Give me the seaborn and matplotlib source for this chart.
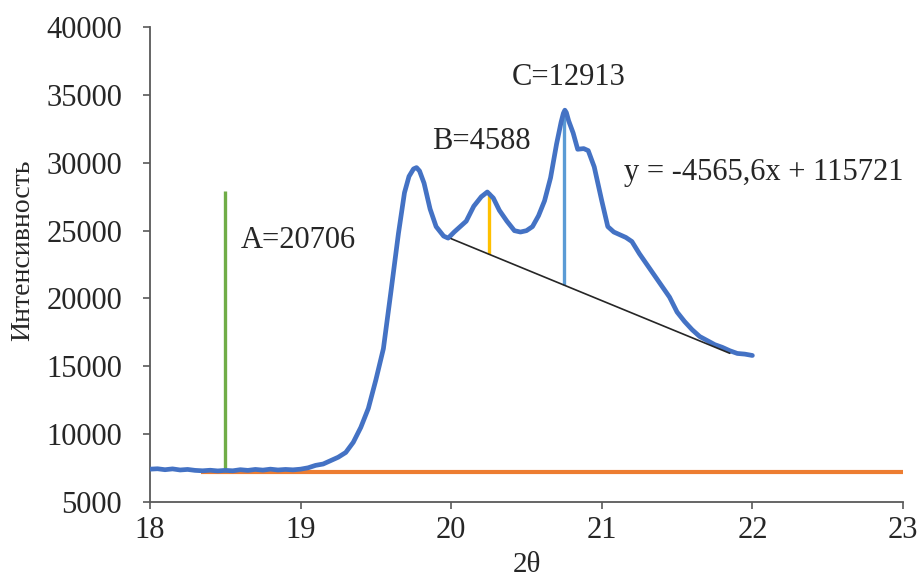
import numpy as np
import pandas as pd
import matplotlib
matplotlib.use("Agg")
import matplotlib.pyplot as plt
import seaborn as sns

# Diffraction scan: 2θ (degrees) and intensity (counts)
two_theta = [
    18.00, 18.05, 18.10, 18.15, 18.20, 18.25, 18.30, 18.35, 18.40, 18.45,
    18.50, 18.55, 18.60, 18.65, 18.70, 18.75, 18.80, 18.85, 18.90, 18.95,
    19.00, 19.05, 19.10, 19.15, 19.20, 19.25, 19.30, 19.35, 19.40, 19.45,
    19.50, 19.55, 19.60, 19.65, 19.69, 19.72, 19.75, 19.77, 19.79, 19.82,
    19.86, 19.90, 19.95, 19.98, 20.02, 20.06, 20.10, 20.15, 20.20, 20.24,
    20.28, 20.32, 20.37, 20.42, 20.46, 20.50, 20.54, 20.58, 20.62, 20.66,
    20.70, 20.73, 20.745, 20.755, 20.765, 20.78, 20.81, 20.84, 20.88, 20.91,
    20.95, 21.00, 21.04, 21.08, 21.12, 21.16, 21.20, 21.25, 21.30, 21.35,
    21.40, 21.45, 21.50, 21.55, 21.60, 21.65, 21.70, 21.75, 21.80, 21.85,
    21.90, 21.95, 22.00,
]
intensity = [
    7420, 7450, 7380, 7440, 7360, 7400, 7330, 7300, 7340, 7290,
    7330, 7300, 7380, 7330, 7400, 7350, 7420, 7360, 7400, 7370,
    7420, 7520, 7700, 7800, 8050, 8300, 8650, 9400, 10500, 11900,
    14000, 16300, 20500, 24800, 27800, 29000, 29550, 29650, 29400, 28500,
    26600, 25300, 24600, 24450, 24900, 25300, 25700, 26800, 27500, 27850,
    27400, 26500, 25700, 25000, 24900, 25000, 25300, 26100, 27200, 28900,
    31400, 33000, 33650, 33880, 33700, 33100, 32200, 31000, 31050, 30900,
    29700, 27200, 25300, 24900, 24700, 24500, 24200, 23300, 22500, 21700,
    20900, 20100, 19000, 18300, 17700, 17200, 16900, 16600, 16400, 16150,
    15950, 15900, 15800,
]

# Flat background level and its extent
background_level = 7200
background_x = [18.34, 23.0]

# Linear background under the peaks: y = slope * x + intercept
trend_slope = -4565.6
trend_intercept = 115721
trend_x = [20.0, 21.85]

# Peak heights measured above the background
peak_names = ["A", "B", "C"]
peak_positions = [18.5, 20.25, 20.75]
peak_heights = [20706, 4588, 12913]

x_ticks = [18, 19, 20, 21, 22, 23]
y_ticks = [5000, 10000, 15000, 20000, 25000, 30000, 35000, 40000]

sns.set_theme(style="white")
plt.rcParams["font.family"] = ["Liberation Serif", "DejaVu Serif"]

fig = plt.figure(figsize=(9.2, 5.78), dpi=100)
ax = fig.add_axes([0.163, 0.1315, 0.8185, 0.8215])

scan = pd.DataFrame({"2θ": two_theta, "I": intensity})

def trend(x):
    return trend_slope * x + trend_intercept

# Flat background line
ax.plot(background_x, [background_level, background_level],
        color="#ED7D31", lw=3.0, solid_capstyle="butt", zorder=2)

# Peak height markers
bases = [background_level,
         trend(peak_positions[1]),
         trend(peak_positions[2])]
colors = ["#70AD47", "#FFC000", "#5B9BD5"]
for xp, b, h, c in zip(peak_positions, bases, peak_heights, colors):
    ax.vlines(xp, b, b + h, color=c, lw=2.4, zorder=3)

# Scan curve
sns.lineplot(data=scan, x="2θ", y="I", ax=ax, color="#4472C4",
             lw=3.4, zorder=4, sort=False)

# Linear background under the peaks
tx = np.array(trend_x)
ax.plot(tx, trend(tx), color="#262626", lw=1.2, zorder=5)

# Labels
fs = 22
ax.text(18.6, 24300, f"{peak_names[0]}={peak_heights[0]}", fontsize=fs,
        ha="left", va="center")
ax.text(19.87, 31600, f"{peak_names[1]}={peak_heights[1]}", fontsize=fs,
        ha="left", va="center")
ax.text(20.40, 36300, f"{peak_names[2]}={peak_heights[2]}", fontsize=fs,
        ha="left", va="center")
ax.text(21.15, 29300,
        f"y = {str(trend_slope).replace('.', ',')}x + {trend_intercept}",
        fontsize=fs, ha="left", va="center")

ax.set_xlim(18, 23)
ax.set_ylim(5000, 40000)
ax.set_xticks(x_ticks)
ax.set_yticks(y_ticks)
ax.tick_params(axis="both", labelsize=22, length=5, width=1.2,
               color="#595959", direction="out", bottom=True, left=True)
ax.tick_params(axis="y", pad=15)
ax.tick_params(axis="x", pad=5)
ax.set_xlabel("2θ", fontsize=21, labelpad=5)
ax.set_ylabel("Интенсивность", fontsize=20)
ax.yaxis.set_label_coords(-0.152, 0.53)

for side in ["top", "right"]:
    ax.spines[side].set_visible(False)
for side in ["left", "bottom"]:
    ax.spines[side].set_color("#595959")
    ax.spines[side].set_linewidth(1.3)

fig.savefig("out.png", dpi=100)
